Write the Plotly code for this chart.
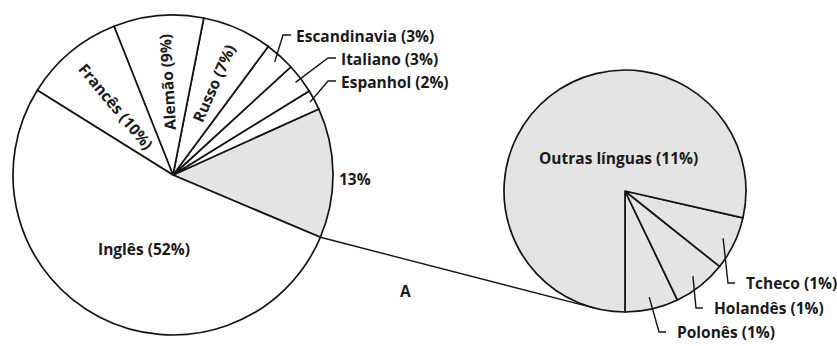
import math
import plotly.graph_objects as go

W, H = 837, 346

# ---- data ----
main_labels = ["13%", "Espanhol (2%)", "Italiano (3%)", "Escandinavia (3%)",
               "Russo (7%)", "Alemão (9%)", "Francês (10%)", "Inglês (52%)"]
main_values = [13, 2, 3, 3, 7, 9, 10, 52]
main_fill = ["#e4e4e4", "white", "white", "white", "white", "white", "white", "white"]

sub_labels = ["Polonês (1%)", "Holandês (1%)", "Tcheco (1%)", "Outras línguas (11%)"]
sub_values = [1, 1, 1, 11]
sub_fill = ["#e4e4e4", "#e4e4e4", "#e4e4e4", "#e4e4e4"]

# ---- geometry (pixels) ----
L_C, L_R, L_START = (173, 175), 160, 112.9   # start: clockwise deg from 12 o'clock
R_C, R_R, R_START = (625, 191), 121, 180.0
LINE = "#141414"
FONT = dict(family="Open Sans", size=15.5, color="#1a1a1a", weight=700)


def px(x, y):
    return x / W, 1 - y / H


def domain(c, r):
    return dict(x=[(c[0] - r) / W, (c[0] + r) / W],
                y=[1 - (c[1] + r) / H, 1 - (c[1] - r) / H])


def slices(values, start_cw):
    """math angles (deg, ccw from east, y up) of each slice, counterclockwise."""
    tot = sum(values)
    a = 90 - start_cw
    out = []
    for v in values:
        span = v / tot * 360
        out.append((a, a + span))
        a += span
    return out


def pt(c, r, ang):
    return c[0] + r * math.cos(math.radians(ang)), c[1] - r * math.sin(math.radians(ang))


fig = go.Figure()
for vals, labs, cols, c, r, start in [
    (main_values, main_labels, main_fill, L_C, L_R, L_START),
    (sub_values, sub_labels, sub_fill, R_C, R_R, R_START),
]:
    first = vals[0] / sum(vals) * 360
    fig.add_trace(go.Pie(
        values=vals, labels=labs, sort=False, direction="counterclockwise",
        rotation=start - first, domain=domain(c, r), textinfo="none",
        hoverinfo="label", showlegend=False,
        marker=dict(colors=cols, line=dict(color=LINE, width=1.7)),
    ))

ann = []
shapes = []


def add_text(x, y, text, angle=0, xanchor="center"):
    ax, ay = px(x, y)
    ann.append(dict(x=ax, y=ay, xref="paper", yref="paper", text=text, showarrow=False,
                    textangle=angle, xanchor=xanchor, yanchor="middle", font=FONT))


def add_path(points):
    d = "M " + " L ".join(f"{px(x, y)[0]:.5f},{px(x, y)[1]:.5f}" for x, y in points)
    shapes.append(dict(type="path", path=d, xref="paper", yref="paper",
                       line=dict(color=LINE, width=1.4)))


ml = slices(main_values, L_START)
mid = {lab: (a + b) / 2 for lab, (a, b) in zip(main_labels, ml)}

# rotated labels inside the big pie
for lab, frac, dang in [("Francês (10%)", 0.56, 0), ("Alemão (9%)", 0.58, -2),
                        ("Russo (7%)", 0.63, 0)]:
    m = mid[lab] + dang
    x, y = pt(L_C, L_R * frac, m)
    ang = -m if math.cos(math.radians(m)) >= -0.2 else 180 - m
    add_text(x, y, lab, angle=ang)

x, y = pt(L_C, L_R * 0.5, mid["Inglês (52%)"] + 6)
add_text(x, y, "Inglês (52%)")
x, y = pt(L_C, L_R * 1.14, mid["13%"] - 2)
add_text(x, y, "13%")

# callouts big pie
for lab, tx, ty, frac in [("Escandinavia (3%)", 294, 36, 0.95),
                          ("Italiano (3%)", 339, 59, 0.96),
                          ("Espanhol (2%)", 339, 82, 0.97)]:
    sx, sy = pt(L_C, L_R * frac, mid[lab])
    add_path([(sx, sy), (tx - 11, ty - 1), (tx - 3, ty - 1)])
    add_text(tx, ty, lab, xanchor="left")

# small pie
sl = slices(sub_values, R_START)
smid = {lab: (a + b) / 2 for lab, (a, b) in zip(sub_labels, sl)}
add_text(618, 158, "Outras línguas (11%)")
for lab, tx, ty in [("Tcheco (1%)", 744, 283), ("Holandês (1%)", 712, 308),
                    ("Polonês (1%)", 675, 332)]:
    sx, sy = pt(R_C, R_R * 0.9, smid[lab])
    add_path([(sx, sy), (tx - 16, ty), (tx - 9, ty)])
    add_text(tx, ty, lab, xanchor="left")

# connector: from big pie (edge of 13% slice) tangent to the small pie
P = pt(L_C, L_R, ml[0][0])
dx, dy = R_C[0] - P[0], R_C[1] - P[1]
d = math.hypot(dx, dy)
base = math.atan2(dy, dx)
off = math.asin(R_R / d)
t = math.sqrt(d * d - R_R * R_R)
T = (P[0] + t * math.cos(base + off), P[1] + t * math.sin(base + off))
add_path([P, T])
add_text(405, 291, "A")

fig.update_layout(
    width=W, height=H, margin=dict(l=0, r=0, t=0, b=0),
    paper_bgcolor="white", plot_bgcolor="white",
    annotations=ann, shapes=shapes,
)
fig.write_html("out.html")
